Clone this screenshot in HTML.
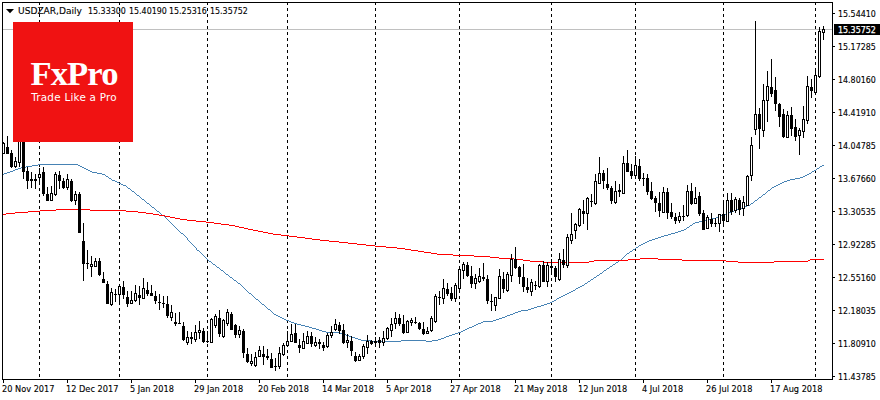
<!DOCTYPE html>
<html lang="en"><head><meta charset="utf-8"><title>USDZAR Daily chart</title>
<style>
html,body{margin:0;padding:0;background:#fff;}
body{width:880px;height:400px;position:relative;overflow:hidden;font-family:"DejaVu Sans Condensed","Liberation Sans",sans-serif;color:#000;}
#chart{position:absolute;left:0;top:0;width:880px;height:400px;display:block;}
.t{position:absolute;white-space:pre;font-size:9.4px;line-height:12px;height:12px;color:#000;transform-origin:0 0;transform:scaleX(0.94);-webkit-text-stroke:0.12px #000;}
.w{transform:scaleX(0.972);}
.s{transform:scaleX(1.075);}
.px{left:837.9px;}
.dt{top:382.5px;}
#logo{position:absolute;left:13px;top:22px;width:120px;height:120px;background:#f01212;overflow:hidden;}
#logo .fx{position:absolute;left:17.5px;top:33.5px;font-family:"Liberation Serif","DejaVu Serif",serif;font-weight:bold;font-size:34.6px;line-height:34px;color:#fff;white-space:pre;letter-spacing:-0.9px;transform-origin:0 0;}
#logo .tl{position:absolute;left:18.2px;top:69.2px;font-family:"DejaVu Sans","Liberation Sans",sans-serif;font-size:10.4px;line-height:12px;color:#fff;white-space:pre;letter-spacing:0.24px;}
#cur{position:absolute;left:834px;top:24px;width:46px;height:11px;background:#000;}
#cur span{position:absolute;left:3.9px;top:-0.5px;color:#fff;-webkit-text-stroke:0.25px #fff;font-size:9.4px;line-height:12px;white-space:pre;transform-origin:0 0;transform:scaleX(0.94);}
</style></head><body>
<svg id="chart" width="880" height="400" viewBox="0 0 880 400" shape-rendering="crispEdges">
<rect x="0" y="0" width="880" height="400" fill="#fff"/>
<rect x="3" y="29" width="829" height="1" fill="#c0c0c0"/>
<g stroke="#000" stroke-width="1" stroke-dasharray="3 3">
<line x1="39.5" y1="2" x2="39.5" y2="377"/>
<line x1="119.5" y1="2" x2="119.5" y2="377"/>
<line x1="207.5" y1="2" x2="207.5" y2="377"/>
<line x1="287.5" y1="2" x2="287.5" y2="377"/>
<line x1="375.5" y1="2" x2="375.5" y2="377"/>
<line x1="459.5" y1="2" x2="459.5" y2="377"/>
<line x1="551.5" y1="2" x2="551.5" y2="377"/>
<line x1="635.5" y1="2" x2="635.5" y2="377"/>
<line x1="723.5" y1="2" x2="723.5" y2="377"/>
<line x1="815.5" y1="2" x2="815.5" y2="377"/>
</g>
<g fill="#000">
<rect x="2" y="2" width="831" height="1"/>
<rect x="2" y="2" width="1" height="378"/>
<rect x="832" y="2" width="1" height="378"/>
<rect x="2" y="379" width="831" height="1"/>
<rect x="833" y="13" width="2" height="1"/>
<rect x="833" y="46" width="2" height="1"/>
<rect x="833" y="79" width="2" height="1"/>
<rect x="833" y="112" width="2" height="1"/>
<rect x="833" y="145" width="2" height="1"/>
<rect x="833" y="178" width="2" height="1"/>
<rect x="833" y="211" width="2" height="1"/>
<rect x="833" y="244" width="2" height="1"/>
<rect x="833" y="277" width="2" height="1"/>
<rect x="833" y="310" width="2" height="1"/>
<rect x="833" y="343" width="2" height="1"/>
<rect x="833" y="376" width="2" height="1"/>
<rect x="3" y="379" width="1" height="4"/>
<rect x="67" y="379" width="1" height="4"/>
<rect x="131" y="379" width="1" height="4"/>
<rect x="195" y="379" width="1" height="4"/>
<rect x="259" y="379" width="1" height="4"/>
<rect x="323" y="379" width="1" height="4"/>
<rect x="387" y="379" width="1" height="4"/>
<rect x="451" y="379" width="1" height="4"/>
<rect x="515" y="379" width="1" height="4"/>
<rect x="579" y="379" width="1" height="4"/>
<rect x="643" y="379" width="1" height="4"/>
<rect x="707" y="379" width="1" height="4"/>
<rect x="771" y="379" width="1" height="4"/>
</g>
<path d="M3 174.5h1M4 173.5h3M7 172.5h3M10 171.5h3M13 170.5h2M15 169.5h3M18 168.5h3M21 167.5h5M26 166.5h6M32 165.5h6M38 164.5h40M78 165.5h2M80 166.5h2M82 167.5h2M84 168.5h2M86 169.5h2M88 170.5h2M90 171.5h2M92 172.5h5M97 173.5h5M102 174.5h3M105 175.5h1M106 176.5h2M108 177.5h1M109 178.5h2M111 179.5h1M112 180.5h3M115 181.5h2M117 182.5h2M119 183.5h2M121 184.5h2M123 185.5h3M126 186.5h1M127 187.5h1M128 188.5h2M130 189.5h1M131 190.5h1M132 191.5h2M134 192.5h1M135 193.5h1M136 194.5h1M137 195.5h2M139 196.5h1M140 197.5h1M141 198.5h1M142 199.5h2M144 200.5h1M145 201.5h1M146 202.5h1M147 203.5h2M149 204.5h1M150 205.5h1M151 206.5h1M152 207.5h2M154 208.5h1M155 209.5h1M156 210.5h1M157 211.5h2M159 212.5h1M160 213.5h1M161 214.5h1M162 215.5h2M164 216.5h1M165 217.5h1M166 218.5h1M167 219.5h1M168 220.5h1M169 221.5h1M170 222.5h1M171 223.5h1M172 224.5h1M173 225.5h1M174 226.5h1M175 227.5h1M176 228.5h1M177 229.5h1M178 230.5h1M179 231.5h1M180 232.5h1M181 233.5h2M183 234.5h1M184 235.5h1M185 236.5h1M186 237.5h1M187 238.5h1M187.5 239v1M188 240.5h1M189 241.5h1M190 242.5h1M191 243.5h1M192 244.5h1M193 245.5h1M194 246.5h1M195 247.5h1M196 248.5h1M196.5 249v1M197 250.5h2M199 251.5h1M200 252.5h1M201 253.5h1M202 254.5h1M203 255.5h1M204 256.5h1M205 257.5h1M206 258.5h1M207 259.5h1M208 260.5h1M209 261.5h2M211 262.5h1M212 263.5h1M213 264.5h2M215 265.5h1M216 266.5h1M217 267.5h2M219 268.5h1M220 269.5h1M221 270.5h2M223 271.5h1M224 272.5h1M225 273.5h1M226 274.5h2M228 275.5h1M229 276.5h1M230 277.5h2M232 278.5h1M233 279.5h1M234 280.5h2M236 281.5h1M237 282.5h1M238 283.5h2M240 284.5h1M241 285.5h1M242 286.5h1M243 287.5h1M244 288.5h1M245 289.5h1M246 290.5h1M247 291.5h1M248 292.5h1M249 293.5h2M251 294.5h1M252 295.5h1M253 296.5h1M254 297.5h1M255 298.5h1M256 299.5h2M258 300.5h1M259 301.5h1M260 302.5h1M261 303.5h1M262 304.5h2M264 305.5h1M265 306.5h1M266 307.5h1M267 308.5h1M268 309.5h2M270 310.5h1M271 311.5h1M272 312.5h1M273 313.5h1M274 314.5h2M276 315.5h2M278 316.5h2M280 317.5h2M282 318.5h2M284 319.5h2M286 320.5h3M289 321.5h2M291 322.5h3M294 323.5h3M297 324.5h4M301 325.5h4M305 326.5h4M309 327.5h3M312 328.5h4M316 329.5h3M319 330.5h3M322 331.5h4M326 332.5h14M340 333.5h3M343 334.5h3M346 335.5h3M349 336.5h3M352 337.5h3M355 338.5h3M358 339.5h3M361 340.5h11M372 341.5h29M401 340.5h25M426 341.5h6M432 340.5h6M438 339.5h3M441 338.5h3M444 337.5h2M446 336.5h3M449 335.5h3M452 334.5h3M455 333.5h3M458 332.5h3M461 331.5h2M463 330.5h2M465 329.5h2M467 328.5h2M469 327.5h3M472 326.5h2M474 325.5h2M476 324.5h2M478 323.5h3M481 322.5h2M483 321.5h10M493 320.5h3M496 319.5h3M499 318.5h3M502 317.5h3M505 316.5h2M507 315.5h3M510 314.5h3M513 313.5h2M515 312.5h3M518 311.5h3M521 310.5h7M528 309.5h3M531 308.5h3M534 307.5h3M537 306.5h4M541 305.5h3M544 304.5h3M547 303.5h3M550 302.5h2M552 301.5h2M554 300.5h2M556 299.5h1M557 298.5h2M559 297.5h2M561 296.5h2M563 295.5h2M565 294.5h2M567 293.5h2M569 292.5h2M571 291.5h2M573 290.5h2M575 289.5h1M576 288.5h2M578 287.5h2M580 286.5h2M582 285.5h2M584 284.5h1M585 283.5h2M587 282.5h1M588 281.5h2M590 280.5h1M591 279.5h2M593 278.5h1M594 277.5h2M596 276.5h1M597 275.5h2M599 274.5h1M600 273.5h2M602 272.5h1M603 271.5h1M604 270.5h2M606 269.5h1M607 268.5h2M609 267.5h1M610 266.5h2M612 265.5h1M613 264.5h2M615 263.5h1M616 262.5h2M618 261.5h1M619 260.5h2M621 259.5h1M622 258.5h1M623 257.5h1M624 256.5h1M625 255.5h1M626 254.5h1M627 253.5h2M629 252.5h1M630 251.5h2M632 250.5h1M633 249.5h2M635 248.5h1M636 247.5h2M638 246.5h1M639 245.5h2M641 244.5h2M643 243.5h2M645 242.5h2M647 241.5h2M649 240.5h3M652 239.5h3M655 238.5h3M658 237.5h3M661 236.5h3M664 235.5h4M668 234.5h3M671 233.5h4M675 232.5h3M678 231.5h3M681 230.5h3M684 229.5h2M686 228.5h1M687 227.5h2M689 226.5h1M690 225.5h2M692 224.5h1M693 223.5h2M695 222.5h4M699 221.5h5M704 220.5h4M708 219.5h4M712 218.5h4M716 217.5h2M718 216.5h3M721 215.5h3M724 214.5h3M727 213.5h2M729 212.5h3M732 211.5h2M734 210.5h3M737 209.5h2M739 208.5h3M742 207.5h3M745 206.5h2M747 205.5h3M750 204.5h1M751 203.5h2M753 202.5h1M754 201.5h1M755 200.5h2M757 199.5h1M758 198.5h1M759 197.5h2M761 196.5h1M762 195.5h1M763 194.5h2M765 193.5h1M766 192.5h1M767 191.5h1M768 190.5h2M770 189.5h1M771 188.5h1M772 187.5h2M774 186.5h2M776 185.5h2M778 184.5h2M780 183.5h2M782 182.5h2M784 181.5h3M787 180.5h3M790 179.5h5M795 178.5h5M800 177.5h3M803 176.5h2M805 175.5h2M807 174.5h2M809 173.5h2M811 172.5h1M812 171.5h2M814 170.5h2M816 169.5h1M817 168.5h2M819 167.5h1M820 166.5h2M822 165.5h2" fill="none" stroke="#4682b4" stroke-width="1" shape-rendering="crispEdges"/>
<path d="M3 214.5h3M6 213.5h9M15 212.5h13M28 211.5h12M40 210.5h16M56 209.5h34M90 210.5h36M126 211.5h12M138 212.5h8M146 213.5h7M153 214.5h6M159 215.5h6M165 216.5h5M170 217.5h5M175 218.5h5M180 219.5h7M187 220.5h9M196 221.5h10M206 222.5h8M214 223.5h7M221 224.5h8M229 225.5h6M235 226.5h4M239 227.5h5M244 228.5h4M248 229.5h5M253 230.5h5M258 231.5h5M263 232.5h5M268 233.5h5M273 234.5h8M281 235.5h8M289 236.5h8M297 237.5h8M305 238.5h7M312 239.5h8M320 240.5h9M329 241.5h10M339 242.5h9M348 243.5h9M357 244.5h9M366 245.5h9M375 246.5h11M386 247.5h11M397 248.5h8M405 249.5h6M411 250.5h7M418 251.5h6M424 252.5h7M431 253.5h6M437 254.5h16M453 255.5h21M474 256.5h16M490 257.5h9M499 258.5h15M514 259.5h9M523 260.5h7M530 261.5h13M543 262.5h46M589 261.5h5M594 260.5h34M628 259.5h12M640 258.5h18M658 259.5h24M682 260.5h44M726 261.5h12M738 262.5h36M774 261.5h34M808 260.5h2M810 259.5h14" fill="none" stroke="#ff0000" stroke-width="1" shape-rendering="crispEdges"/>
<g fill="#000">
<rect x="3" y="142" width="1" height="12"/>
<rect x="2" y="143" width="3" height="11"/>
<rect x="7" y="136" width="1" height="18"/>
<rect x="6" y="147" width="3" height="7"/>
<rect x="11" y="150" width="1" height="18"/>
<rect x="10" y="153" width="3" height="14"/>
<rect x="15" y="157" width="1" height="11"/>
<rect x="14" y="161" width="3" height="6"/>
<rect x="19" y="120" width="1" height="47"/>
<rect x="18" y="125" width="3" height="38"/>
<rect x="23" y="118" width="1" height="61"/>
<rect x="22" y="124" width="3" height="48"/>
<rect x="27" y="167" width="1" height="22"/>
<rect x="26" y="171" width="3" height="10"/>
<rect x="31" y="172" width="1" height="16"/>
<rect x="30" y="179" width="3" height="2"/>
<rect x="35" y="174" width="1" height="15"/>
<rect x="34" y="179" width="3" height="2"/>
<rect x="39" y="168" width="1" height="16"/>
<rect x="38" y="174" width="3" height="4"/>
<rect x="43" y="167" width="1" height="29"/>
<rect x="42" y="172" width="3" height="22"/>
<rect x="47" y="187" width="1" height="14"/>
<rect x="46" y="194" width="3" height="7"/>
<rect x="51" y="186" width="1" height="15"/>
<rect x="50" y="193" width="3" height="8"/>
<rect x="55" y="172" width="1" height="24"/>
<rect x="54" y="174" width="3" height="21"/>
<rect x="59" y="171" width="1" height="18"/>
<rect x="58" y="175" width="3" height="6"/>
<rect x="63" y="178" width="1" height="11"/>
<rect x="62" y="181" width="3" height="7"/>
<rect x="67" y="174" width="1" height="16"/>
<rect x="66" y="179" width="3" height="9"/>
<rect x="71" y="179" width="1" height="23"/>
<rect x="70" y="181" width="3" height="20"/>
<rect x="75" y="191" width="1" height="14"/>
<rect x="74" y="194" width="3" height="7"/>
<rect x="79" y="192" width="1" height="41"/>
<rect x="78" y="194" width="3" height="39"/>
<rect x="83" y="223" width="1" height="58"/>
<rect x="82" y="241" width="3" height="23"/>
<rect x="87" y="250" width="1" height="19"/>
<rect x="86" y="263" width="3" height="1"/>
<rect x="91" y="256" width="1" height="21"/>
<rect x="90" y="264" width="3" height="3"/>
<rect x="95" y="258" width="1" height="9"/>
<rect x="94" y="261" width="3" height="6"/>
<rect x="99" y="258" width="1" height="18"/>
<rect x="98" y="261" width="3" height="14"/>
<rect x="103" y="272" width="1" height="11"/>
<rect x="102" y="279" width="3" height="4"/>
<rect x="107" y="281" width="1" height="23"/>
<rect x="106" y="284" width="3" height="20"/>
<rect x="111" y="288" width="1" height="18"/>
<rect x="110" y="292" width="3" height="13"/>
<rect x="115" y="289" width="1" height="13"/>
<rect x="114" y="294" width="3" height="1"/>
<rect x="119" y="284" width="1" height="20"/>
<rect x="118" y="286" width="3" height="9"/>
<rect x="123" y="281" width="1" height="18"/>
<rect x="122" y="287" width="3" height="8"/>
<rect x="127" y="291" width="1" height="16"/>
<rect x="126" y="297" width="3" height="7"/>
<rect x="131" y="291" width="1" height="13"/>
<rect x="130" y="300" width="3" height="4"/>
<rect x="135" y="285" width="1" height="17"/>
<rect x="134" y="293" width="3" height="8"/>
<rect x="139" y="286" width="1" height="19"/>
<rect x="138" y="295" width="3" height="3"/>
<rect x="143" y="278" width="1" height="21"/>
<rect x="142" y="288" width="3" height="11"/>
<rect x="147" y="282" width="1" height="14"/>
<rect x="146" y="290" width="3" height="4"/>
<rect x="151" y="285" width="1" height="11"/>
<rect x="150" y="293" width="3" height="3"/>
<rect x="155" y="291" width="1" height="13"/>
<rect x="154" y="296" width="3" height="5"/>
<rect x="159" y="294" width="1" height="16"/>
<rect x="158" y="302" width="3" height="1"/>
<rect x="163" y="296" width="1" height="12"/>
<rect x="162" y="303" width="3" height="1"/>
<rect x="167" y="296" width="1" height="22"/>
<rect x="166" y="304" width="3" height="12"/>
<rect x="171" y="305" width="1" height="16"/>
<rect x="170" y="312" width="3" height="6"/>
<rect x="175" y="313" width="1" height="13"/>
<rect x="174" y="322" width="3" height="2"/>
<rect x="179" y="312" width="1" height="12"/>
<rect x="178" y="323" width="3" height="1"/>
<rect x="183" y="322" width="1" height="19"/>
<rect x="182" y="326" width="3" height="14"/>
<rect x="187" y="331" width="1" height="14"/>
<rect x="186" y="337" width="3" height="6"/>
<rect x="191" y="332" width="1" height="12"/>
<rect x="190" y="337" width="3" height="2"/>
<rect x="195" y="325" width="1" height="17"/>
<rect x="194" y="332" width="3" height="8"/>
<rect x="199" y="321" width="1" height="18"/>
<rect x="198" y="330" width="3" height="3"/>
<rect x="203" y="328" width="1" height="15"/>
<rect x="202" y="331" width="3" height="11"/>
<rect x="207" y="331" width="1" height="12"/>
<rect x="206" y="341" width="3" height="1"/>
<rect x="211" y="318" width="1" height="25"/>
<rect x="210" y="319" width="3" height="24"/>
<rect x="215" y="314" width="1" height="14"/>
<rect x="214" y="316" width="3" height="10"/>
<rect x="219" y="310" width="1" height="27"/>
<rect x="218" y="318" width="3" height="16"/>
<rect x="223" y="319" width="1" height="19"/>
<rect x="222" y="320" width="3" height="17"/>
<rect x="227" y="309" width="1" height="17"/>
<rect x="226" y="312" width="3" height="12"/>
<rect x="231" y="312" width="1" height="18"/>
<rect x="230" y="314" width="3" height="16"/>
<rect x="235" y="324" width="1" height="14"/>
<rect x="234" y="325" width="3" height="10"/>
<rect x="239" y="326" width="1" height="12"/>
<rect x="238" y="330" width="3" height="5"/>
<rect x="243" y="329" width="1" height="29"/>
<rect x="242" y="331" width="3" height="22"/>
<rect x="247" y="348" width="1" height="15"/>
<rect x="246" y="354" width="3" height="8"/>
<rect x="251" y="354" width="1" height="12"/>
<rect x="250" y="361" width="3" height="3"/>
<rect x="255" y="352" width="1" height="15"/>
<rect x="254" y="357" width="3" height="9"/>
<rect x="259" y="346" width="1" height="11"/>
<rect x="258" y="350" width="3" height="7"/>
<rect x="263" y="346" width="1" height="19"/>
<rect x="262" y="354" width="3" height="3"/>
<rect x="267" y="349" width="1" height="11"/>
<rect x="266" y="356" width="3" height="2"/>
<rect x="271" y="353" width="1" height="15"/>
<rect x="270" y="359" width="3" height="9"/>
<rect x="275" y="358" width="1" height="13"/>
<rect x="274" y="366" width="3" height="1"/>
<rect x="279" y="347" width="1" height="22"/>
<rect x="278" y="353" width="3" height="14"/>
<rect x="283" y="343" width="1" height="13"/>
<rect x="282" y="345" width="3" height="10"/>
<rect x="287" y="331" width="1" height="16"/>
<rect x="286" y="341" width="3" height="5"/>
<rect x="291" y="324" width="1" height="18"/>
<rect x="290" y="334" width="3" height="8"/>
<rect x="295" y="324" width="1" height="19"/>
<rect x="294" y="333" width="3" height="10"/>
<rect x="299" y="339" width="1" height="14"/>
<rect x="298" y="345" width="3" height="3"/>
<rect x="303" y="333" width="1" height="16"/>
<rect x="302" y="341" width="3" height="8"/>
<rect x="307" y="331" width="1" height="13"/>
<rect x="306" y="336" width="3" height="8"/>
<rect x="311" y="332" width="1" height="15"/>
<rect x="310" y="336" width="3" height="8"/>
<rect x="315" y="337" width="1" height="10"/>
<rect x="314" y="342" width="3" height="4"/>
<rect x="319" y="339" width="1" height="10"/>
<rect x="318" y="342" width="3" height="2"/>
<rect x="323" y="342" width="1" height="9"/>
<rect x="322" y="345" width="3" height="3"/>
<rect x="327" y="333" width="1" height="15"/>
<rect x="326" y="335" width="3" height="12"/>
<rect x="331" y="326" width="1" height="12"/>
<rect x="330" y="332" width="3" height="4"/>
<rect x="335" y="319" width="1" height="12"/>
<rect x="334" y="324" width="3" height="6"/>
<rect x="339" y="322" width="1" height="12"/>
<rect x="338" y="325" width="3" height="6"/>
<rect x="343" y="324" width="1" height="20"/>
<rect x="342" y="330" width="3" height="13"/>
<rect x="347" y="334" width="1" height="14"/>
<rect x="346" y="340" width="3" height="3"/>
<rect x="351" y="336" width="1" height="20"/>
<rect x="350" y="341" width="3" height="10"/>
<rect x="355" y="352" width="1" height="10"/>
<rect x="354" y="356" width="3" height="5"/>
<rect x="359" y="354" width="1" height="7"/>
<rect x="358" y="356" width="3" height="5"/>
<rect x="363" y="344" width="1" height="15"/>
<rect x="362" y="346" width="3" height="11"/>
<rect x="367" y="335" width="1" height="19"/>
<rect x="366" y="341" width="3" height="7"/>
<rect x="371" y="340" width="1" height="5"/>
<rect x="370" y="341" width="3" height="3"/>
<rect x="375" y="337" width="1" height="10"/>
<rect x="374" y="341" width="3" height="2"/>
<rect x="379" y="337" width="1" height="11"/>
<rect x="378" y="340" width="3" height="3"/>
<rect x="383" y="331" width="1" height="15"/>
<rect x="382" y="338" width="3" height="5"/>
<rect x="387" y="327" width="1" height="13"/>
<rect x="386" y="328" width="3" height="11"/>
<rect x="391" y="318" width="1" height="19"/>
<rect x="390" y="324" width="3" height="7"/>
<rect x="395" y="312" width="1" height="17"/>
<rect x="394" y="318" width="3" height="6"/>
<rect x="399" y="314" width="1" height="12"/>
<rect x="398" y="318" width="3" height="6"/>
<rect x="403" y="315" width="1" height="19"/>
<rect x="402" y="324" width="3" height="9"/>
<rect x="407" y="320" width="1" height="13"/>
<rect x="406" y="321" width="3" height="12"/>
<rect x="411" y="318" width="1" height="8"/>
<rect x="410" y="320" width="3" height="3"/>
<rect x="415" y="317" width="1" height="7"/>
<rect x="414" y="322" width="3" height="1"/>
<rect x="419" y="322" width="1" height="8"/>
<rect x="418" y="323" width="3" height="6"/>
<rect x="423" y="322" width="1" height="13"/>
<rect x="422" y="329" width="3" height="5"/>
<rect x="427" y="327" width="1" height="7"/>
<rect x="426" y="331" width="3" height="3"/>
<rect x="431" y="316" width="1" height="16"/>
<rect x="430" y="318" width="3" height="13"/>
<rect x="435" y="294" width="1" height="29"/>
<rect x="434" y="296" width="3" height="26"/>
<rect x="439" y="291" width="1" height="14"/>
<rect x="438" y="297" width="3" height="1"/>
<rect x="443" y="279" width="1" height="25"/>
<rect x="442" y="288" width="3" height="11"/>
<rect x="447" y="283" width="1" height="13"/>
<rect x="446" y="289" width="3" height="5"/>
<rect x="451" y="287" width="1" height="14"/>
<rect x="450" y="293" width="3" height="6"/>
<rect x="455" y="283" width="1" height="19"/>
<rect x="454" y="285" width="3" height="14"/>
<rect x="459" y="266" width="1" height="27"/>
<rect x="458" y="269" width="3" height="20"/>
<rect x="463" y="262" width="1" height="17"/>
<rect x="462" y="264" width="3" height="7"/>
<rect x="467" y="262" width="1" height="15"/>
<rect x="466" y="265" width="3" height="11"/>
<rect x="471" y="266" width="1" height="22"/>
<rect x="470" y="276" width="3" height="8"/>
<rect x="475" y="274" width="1" height="15"/>
<rect x="474" y="278" width="3" height="6"/>
<rect x="479" y="268" width="1" height="15"/>
<rect x="478" y="276" width="3" height="6"/>
<rect x="483" y="263" width="1" height="18"/>
<rect x="482" y="277" width="3" height="2"/>
<rect x="487" y="275" width="1" height="29"/>
<rect x="486" y="279" width="3" height="22"/>
<rect x="491" y="294" width="1" height="17"/>
<rect x="490" y="301" width="3" height="1"/>
<rect x="495" y="297" width="1" height="14"/>
<rect x="494" y="297" width="3" height="9"/>
<rect x="499" y="269" width="1" height="30"/>
<rect x="498" y="276" width="3" height="23"/>
<rect x="503" y="272" width="1" height="21"/>
<rect x="502" y="279" width="3" height="10"/>
<rect x="507" y="272" width="1" height="20"/>
<rect x="506" y="274" width="3" height="17"/>
<rect x="511" y="254" width="1" height="28"/>
<rect x="510" y="259" width="3" height="17"/>
<rect x="515" y="247" width="1" height="22"/>
<rect x="514" y="259" width="3" height="9"/>
<rect x="519" y="266" width="1" height="18"/>
<rect x="518" y="267" width="3" height="10"/>
<rect x="523" y="264" width="1" height="28"/>
<rect x="522" y="277" width="3" height="10"/>
<rect x="527" y="278" width="1" height="15"/>
<rect x="526" y="287" width="3" height="3"/>
<rect x="531" y="279" width="1" height="17"/>
<rect x="530" y="282" width="3" height="10"/>
<rect x="535" y="281" width="1" height="9"/>
<rect x="534" y="285" width="3" height="1"/>
<rect x="539" y="264" width="1" height="24"/>
<rect x="538" y="265" width="3" height="22"/>
<rect x="543" y="261" width="1" height="21"/>
<rect x="542" y="265" width="3" height="17"/>
<rect x="547" y="262" width="1" height="25"/>
<rect x="546" y="265" width="3" height="17"/>
<rect x="551" y="259" width="1" height="16"/>
<rect x="550" y="266" width="3" height="2"/>
<rect x="555" y="266" width="1" height="16"/>
<rect x="554" y="268" width="3" height="9"/>
<rect x="559" y="253" width="1" height="28"/>
<rect x="558" y="259" width="3" height="21"/>
<rect x="563" y="249" width="1" height="19"/>
<rect x="562" y="260" width="3" height="5"/>
<rect x="567" y="234" width="1" height="34"/>
<rect x="566" y="237" width="3" height="29"/>
<rect x="571" y="213" width="1" height="31"/>
<rect x="570" y="234" width="3" height="7"/>
<rect x="575" y="223" width="1" height="16"/>
<rect x="574" y="224" width="3" height="7"/>
<rect x="579" y="208" width="1" height="19"/>
<rect x="578" y="209" width="3" height="17"/>
<rect x="583" y="200" width="1" height="24"/>
<rect x="582" y="211" width="3" height="3"/>
<rect x="587" y="197" width="1" height="33"/>
<rect x="586" y="198" width="3" height="16"/>
<rect x="591" y="194" width="1" height="13"/>
<rect x="590" y="201" width="3" height="1"/>
<rect x="595" y="174" width="1" height="31"/>
<rect x="594" y="181" width="3" height="23"/>
<rect x="599" y="157" width="1" height="27"/>
<rect x="598" y="173" width="3" height="11"/>
<rect x="603" y="170" width="1" height="19"/>
<rect x="602" y="173" width="3" height="8"/>
<rect x="607" y="168" width="1" height="22"/>
<rect x="606" y="184" width="3" height="4"/>
<rect x="611" y="186" width="1" height="18"/>
<rect x="610" y="188" width="3" height="13"/>
<rect x="615" y="181" width="1" height="23"/>
<rect x="614" y="191" width="3" height="12"/>
<rect x="619" y="184" width="1" height="13"/>
<rect x="618" y="190" width="3" height="2"/>
<rect x="623" y="156" width="1" height="38"/>
<rect x="622" y="163" width="3" height="31"/>
<rect x="627" y="150" width="1" height="22"/>
<rect x="626" y="163" width="3" height="9"/>
<rect x="631" y="164" width="1" height="15"/>
<rect x="630" y="171" width="3" height="5"/>
<rect x="635" y="156" width="1" height="23"/>
<rect x="634" y="165" width="3" height="11"/>
<rect x="639" y="159" width="1" height="22"/>
<rect x="638" y="166" width="3" height="13"/>
<rect x="643" y="173" width="1" height="13"/>
<rect x="642" y="178" width="3" height="1"/>
<rect x="647" y="174" width="1" height="21"/>
<rect x="646" y="178" width="3" height="14"/>
<rect x="651" y="182" width="1" height="18"/>
<rect x="650" y="191" width="3" height="8"/>
<rect x="655" y="196" width="1" height="16"/>
<rect x="654" y="198" width="3" height="5"/>
<rect x="659" y="192" width="1" height="25"/>
<rect x="658" y="203" width="3" height="8"/>
<rect x="663" y="187" width="1" height="26"/>
<rect x="662" y="192" width="3" height="21"/>
<rect x="667" y="188" width="1" height="31"/>
<rect x="666" y="192" width="3" height="21"/>
<rect x="671" y="203" width="1" height="16"/>
<rect x="670" y="212" width="3" height="5"/>
<rect x="675" y="213" width="1" height="11"/>
<rect x="674" y="217" width="3" height="4"/>
<rect x="679" y="212" width="1" height="11"/>
<rect x="678" y="216" width="3" height="5"/>
<rect x="683" y="205" width="1" height="16"/>
<rect x="682" y="216" width="3" height="1"/>
<rect x="687" y="185" width="1" height="32"/>
<rect x="686" y="191" width="3" height="25"/>
<rect x="691" y="183" width="1" height="22"/>
<rect x="690" y="191" width="3" height="13"/>
<rect x="695" y="187" width="1" height="17"/>
<rect x="694" y="198" width="3" height="6"/>
<rect x="699" y="192" width="1" height="24"/>
<rect x="698" y="196" width="3" height="18"/>
<rect x="703" y="210" width="1" height="20"/>
<rect x="702" y="213" width="3" height="17"/>
<rect x="707" y="215" width="1" height="14"/>
<rect x="706" y="217" width="3" height="12"/>
<rect x="711" y="213" width="1" height="14"/>
<rect x="710" y="219" width="3" height="5"/>
<rect x="715" y="218" width="1" height="9"/>
<rect x="714" y="223" width="3" height="1"/>
<rect x="719" y="214" width="1" height="18"/>
<rect x="718" y="214" width="3" height="10"/>
<rect x="723" y="203" width="1" height="23"/>
<rect x="722" y="214" width="3" height="7"/>
<rect x="727" y="193" width="1" height="29"/>
<rect x="726" y="200" width="3" height="22"/>
<rect x="731" y="193" width="1" height="22"/>
<rect x="730" y="200" width="3" height="12"/>
<rect x="735" y="197" width="1" height="16"/>
<rect x="734" y="199" width="3" height="12"/>
<rect x="739" y="198" width="1" height="17"/>
<rect x="738" y="200" width="3" height="10"/>
<rect x="743" y="196" width="1" height="20"/>
<rect x="742" y="202" width="3" height="7"/>
<rect x="747" y="175" width="1" height="31"/>
<rect x="746" y="176" width="3" height="30"/>
<rect x="751" y="137" width="1" height="44"/>
<rect x="750" y="145" width="3" height="31"/>
<rect x="755" y="21" width="1" height="114"/>
<rect x="754" y="114" width="3" height="16"/>
<rect x="759" y="108" width="1" height="41"/>
<rect x="758" y="114" width="3" height="15"/>
<rect x="763" y="84" width="1" height="53"/>
<rect x="762" y="100" width="3" height="31"/>
<rect x="767" y="71" width="1" height="51"/>
<rect x="766" y="86" width="3" height="15"/>
<rect x="771" y="59" width="1" height="38"/>
<rect x="770" y="87" width="3" height="7"/>
<rect x="775" y="77" width="1" height="34"/>
<rect x="774" y="90" width="3" height="14"/>
<rect x="779" y="103" width="1" height="24"/>
<rect x="778" y="104" width="3" height="13"/>
<rect x="783" y="109" width="1" height="29"/>
<rect x="782" y="114" width="3" height="23"/>
<rect x="787" y="111" width="1" height="27"/>
<rect x="786" y="115" width="3" height="23"/>
<rect x="791" y="107" width="1" height="29"/>
<rect x="790" y="115" width="3" height="14"/>
<rect x="795" y="119" width="1" height="22"/>
<rect x="794" y="127" width="3" height="10"/>
<rect x="799" y="128" width="1" height="27"/>
<rect x="798" y="130" width="3" height="6"/>
<rect x="803" y="106" width="1" height="32"/>
<rect x="802" y="119" width="3" height="13"/>
<rect x="807" y="76" width="1" height="48"/>
<rect x="806" y="86" width="3" height="35"/>
<rect x="811" y="79" width="1" height="19"/>
<rect x="810" y="87" width="3" height="4"/>
<rect x="815" y="70" width="1" height="25"/>
<rect x="814" y="75" width="3" height="18"/>
<rect x="819" y="27" width="1" height="51"/>
<rect x="818" y="31" width="3" height="46"/>
<rect x="823" y="26" width="1" height="14"/>
<rect x="822" y="29" width="3" height="4"/>
</g>
<g fill="#fff">
<rect x="3" y="144" width="1" height="9"/>
<rect x="15" y="162" width="1" height="4"/>
<rect x="19" y="126" width="1" height="36"/>
<rect x="39" y="175" width="1" height="2"/>
<rect x="51" y="194" width="1" height="6"/>
<rect x="55" y="175" width="1" height="19"/>
<rect x="67" y="180" width="1" height="7"/>
<rect x="75" y="195" width="1" height="5"/>
<rect x="91" y="265" width="1" height="1"/>
<rect x="95" y="262" width="1" height="4"/>
<rect x="111" y="293" width="1" height="11"/>
<rect x="119" y="287" width="1" height="7"/>
<rect x="131" y="301" width="1" height="2"/>
<rect x="135" y="294" width="1" height="6"/>
<rect x="143" y="289" width="1" height="9"/>
<rect x="171" y="313" width="1" height="4"/>
<rect x="187" y="338" width="1" height="4"/>
<rect x="195" y="333" width="1" height="6"/>
<rect x="199" y="331" width="1" height="1"/>
<rect x="211" y="320" width="1" height="22"/>
<rect x="215" y="317" width="1" height="8"/>
<rect x="223" y="321" width="1" height="15"/>
<rect x="227" y="313" width="1" height="10"/>
<rect x="239" y="331" width="1" height="3"/>
<rect x="251" y="362" width="1" height="1"/>
<rect x="255" y="358" width="1" height="7"/>
<rect x="259" y="351" width="1" height="5"/>
<rect x="279" y="354" width="1" height="12"/>
<rect x="283" y="346" width="1" height="8"/>
<rect x="287" y="342" width="1" height="3"/>
<rect x="291" y="335" width="1" height="6"/>
<rect x="303" y="342" width="1" height="6"/>
<rect x="307" y="337" width="1" height="6"/>
<rect x="315" y="343" width="1" height="2"/>
<rect x="327" y="336" width="1" height="10"/>
<rect x="331" y="333" width="1" height="2"/>
<rect x="335" y="325" width="1" height="4"/>
<rect x="347" y="341" width="1" height="1"/>
<rect x="359" y="357" width="1" height="3"/>
<rect x="363" y="347" width="1" height="9"/>
<rect x="367" y="342" width="1" height="5"/>
<rect x="383" y="339" width="1" height="3"/>
<rect x="387" y="329" width="1" height="9"/>
<rect x="391" y="325" width="1" height="5"/>
<rect x="395" y="319" width="1" height="4"/>
<rect x="407" y="322" width="1" height="10"/>
<rect x="411" y="321" width="1" height="1"/>
<rect x="427" y="332" width="1" height="1"/>
<rect x="431" y="319" width="1" height="11"/>
<rect x="435" y="297" width="1" height="24"/>
<rect x="443" y="289" width="1" height="9"/>
<rect x="455" y="286" width="1" height="12"/>
<rect x="459" y="270" width="1" height="18"/>
<rect x="463" y="265" width="1" height="5"/>
<rect x="475" y="279" width="1" height="4"/>
<rect x="479" y="277" width="1" height="4"/>
<rect x="495" y="298" width="1" height="7"/>
<rect x="499" y="277" width="1" height="21"/>
<rect x="507" y="275" width="1" height="15"/>
<rect x="511" y="260" width="1" height="15"/>
<rect x="531" y="283" width="1" height="8"/>
<rect x="539" y="266" width="1" height="20"/>
<rect x="547" y="266" width="1" height="15"/>
<rect x="559" y="260" width="1" height="19"/>
<rect x="567" y="238" width="1" height="27"/>
<rect x="571" y="235" width="1" height="5"/>
<rect x="575" y="225" width="1" height="5"/>
<rect x="579" y="210" width="1" height="15"/>
<rect x="587" y="199" width="1" height="14"/>
<rect x="595" y="182" width="1" height="21"/>
<rect x="599" y="174" width="1" height="9"/>
<rect x="615" y="192" width="1" height="10"/>
<rect x="623" y="164" width="1" height="29"/>
<rect x="635" y="166" width="1" height="9"/>
<rect x="663" y="193" width="1" height="19"/>
<rect x="679" y="217" width="1" height="3"/>
<rect x="687" y="192" width="1" height="23"/>
<rect x="695" y="199" width="1" height="4"/>
<rect x="707" y="218" width="1" height="10"/>
<rect x="719" y="215" width="1" height="8"/>
<rect x="727" y="201" width="1" height="20"/>
<rect x="735" y="200" width="1" height="10"/>
<rect x="743" y="203" width="1" height="5"/>
<rect x="747" y="177" width="1" height="28"/>
<rect x="751" y="146" width="1" height="29"/>
<rect x="755" y="115" width="1" height="14"/>
<rect x="763" y="101" width="1" height="29"/>
<rect x="767" y="87" width="1" height="13"/>
<rect x="787" y="116" width="1" height="21"/>
<rect x="799" y="131" width="1" height="4"/>
<rect x="803" y="120" width="1" height="11"/>
<rect x="807" y="87" width="1" height="33"/>
<rect x="815" y="76" width="1" height="16"/>
<rect x="819" y="32" width="1" height="44"/>
<rect x="823" y="30" width="1" height="2"/>
</g>
<polygon points="6,9 14,9 10,13.2" fill="#000" shape-rendering="geometricPrecision"/>
</svg>
<div id="logo"><div class="fx">FxPro</div><div class="tl">Trade Like a Pro</div></div>
<div class="t s" style="left:17.5px;top:4.5px;">USDZAR,Daily</div>
<div class="t" style="left:87.6px;top:4.5px;">15.33300</div>
<div class="t" style="left:128.5px;top:4.5px;">15.40190</div>
<div class="t" style="left:168.9px;top:4.5px;">15.25316</div>
<div class="t" style="left:210.1px;top:4.5px;">15.35752</div>
<div class="t px" style="top:7.5px;">15.54410</div>
<div class="t px" style="top:40.5px;">15.17285</div>
<div class="t px" style="top:73.5px;">14.80160</div>
<div class="t px" style="top:106.5px;">14.41910</div>
<div class="t px" style="top:139.5px;">14.04785</div>
<div class="t px" style="top:172.5px;">13.67660</div>
<div class="t px" style="top:205.5px;">13.30535</div>
<div class="t px" style="top:238.5px;">12.92285</div>
<div class="t px" style="top:271.5px;">12.55160</div>
<div class="t px" style="top:304.5px;">12.18035</div>
<div class="t px" style="top:337.5px;">11.80910</div>
<div class="t px" style="top:370.5px;">11.43785</div>
<div id="cur"><span>15.35752</span></div>
<div class="t w dt" style="left:2.3px;">20 Nov 2017</div>
<div class="t w dt" style="left:66.3px;">12 Dec 2017</div>
<div class="t w dt" style="left:130.3px;">5 Jan 2018</div>
<div class="t w dt" style="left:194.3px;">29 Jan 2018</div>
<div class="t w dt" style="left:258.3px;">20 Feb 2018</div>
<div class="t w dt" style="left:322.3px;">14 Mar 2018</div>
<div class="t w dt" style="left:386.3px;">5 Apr 2018</div>
<div class="t w dt" style="left:450.3px;">27 Apr 2018</div>
<div class="t w dt" style="left:514.3px;">21 May 2018</div>
<div class="t w dt" style="left:578.3px;">12 Jun 2018</div>
<div class="t w dt" style="left:642.3px;">4 Jul 2018</div>
<div class="t w dt" style="left:706.3px;">26 Jul 2018</div>
<div class="t w dt" style="left:770.3px;">17 Aug 2018</div>
</body></html>
